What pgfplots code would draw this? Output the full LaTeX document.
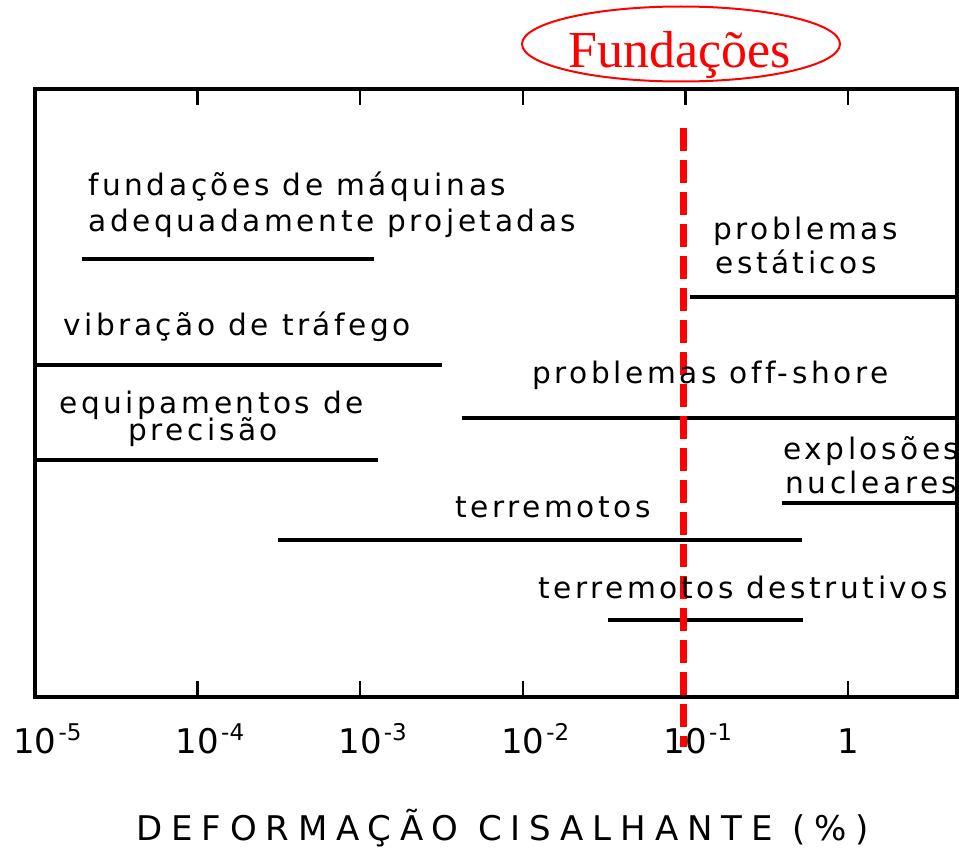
\documentclass[border=0pt]{standalone}
\usepackage{pgfplots}
\pgfplotsset{compat=1.18}
\usepackage{fontspec}
\setmainfont{DejaVu Sans}
\newfontfamily\lett[LetterSpace=12,Ligatures=NoCommon]{DejaVu Sans}
\newfontfamily\lettcap[LetterSpace=26]{DejaVu Sans}
\newfontfamily\serifred{Liberation Serif}
\newcommand\tl[1]{10\rlap{\hspace{1pt}\raisebox{6.5pt}{\fontsize{11.5}{12}\selectfont -#1}}}
\begin{document}
\begin{tikzpicture}
\begin{axis}[name=ax, scale only axis, width=461pt, height=304pt,
  xmode=log, xmin=1e-5, xmax=4.68, ymin=0, ymax=608,
  ytick=\empty, xtick={1e-5,1e-4,1e-3,1e-2,1e-1,1}, xminorticks=false,
  xticklabels={\tl{5},\tl{4},\tl{3},\tl{2},\tl{1},1},
  xtick pos=both, tick align=inside, major tick length=8pt,
  axis line style={line width=2pt}, every tick/.style={black, line width=1.2pt},
  clip=false,
  xticklabel style={anchor=base, yshift=-28pt, font=\fontsize{17}{18}\selectfont},
  seg/.style={black, line width=2pt, solid, no markers}]
\addplot[seg] coordinates {(1.94e-5,438) (1.22e-3,438)};
\addplot[seg] coordinates {(0.106,400) (4.68,400)};
\addplot[seg] coordinates {(1e-5,332) (3.18e-3,332)};
\addplot[seg] coordinates {(4.23e-3,279) (4.68,279)};
\addplot[seg] coordinates {(1e-5,237) (1.29e-3,237)};
\addplot[seg] coordinates {(0.394,194) (4.68,194)};
\addplot[seg] coordinates {(3.12e-4,157) (0.518,157)};
\addplot[seg] coordinates {(0.0332,77) (0.532,77)};
\addplot[red, line width=3.5pt, dash pattern=on 11.5pt off 4.5pt] coordinates {(0.098,569) (0.098,-50)};
\end{axis}
\begin{scope}[shift={(ax.south west)}, x=0.5pt, y=-0.5pt, shift={(-35,-697)}]
\begin{scope}[every node/.style={anchor=base west, inner sep=0pt, font=\fontsize{14.8}{16}\selectfont\lett}]
\node at (88,195) {fundações de máquinas};
\node at (88,231) {adequadamente projetadas};
\node at (713,239) {problemas};
\node at (715,273) {estáticos};
\node at (63,335) {vibração de tráfego};
\node at (532,383) {problemas off-shore};
\node at (59,413) {equipamentos de};
\node at (128,440) {precisão};
\node at (783,459) {explosões};
\node at (785,493) {nucleares};
\node at (455,517) {terremotos};
\node at (538,598) {terremotos destrutivos};
\end{scope}
\node[anchor=base, inner sep=0pt, font=\fontsize{17}{18}\selectfont\lettcap] at (502.5,840) {DEFORMAÇÃO CISALHANTE (\%)};
\draw[red, line width=1pt] (681,44) ellipse [x radius=79.5pt, y radius=18.75pt];
\node[red, anchor=base, inner sep=0pt, font=\fontsize{26}{28}\selectfont\serifred] at (680,67) {Fundações};
\pgfresetboundingbox
\path[use as bounding box] (0,0) rectangle (959,848);
\end{scope}
\end{tikzpicture}
\end{document}
